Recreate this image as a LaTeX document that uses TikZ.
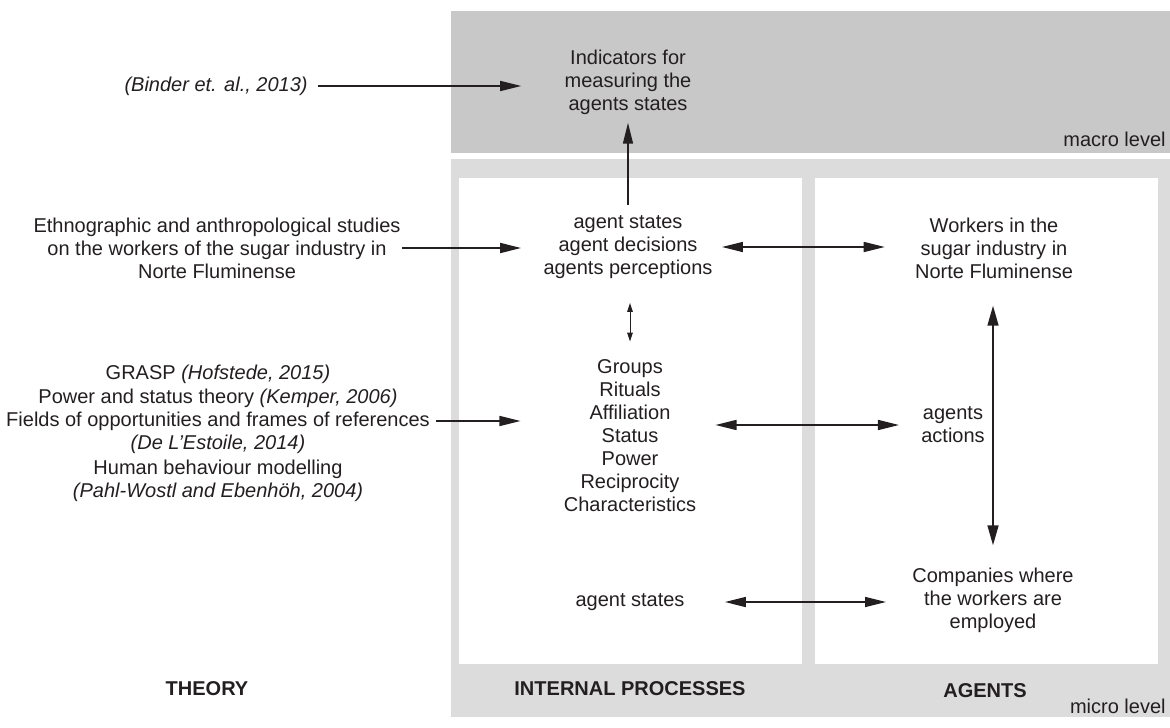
\documentclass[tikz,border=0pt]{standalone}
\usepackage{fontspec}
\setmainfont{Liberation Sans}
\usetikzlibrary{arrows.meta}
\definecolor{ink}{HTML}{231F20}
\definecolor{macrogray}{HTML}{C8C8C8}
\definecolor{microgray}{HTML}{DCDCDC}
\begin{document}
\begin{tikzpicture}[x=0.5pt,y=-0.5pt,
  txt/.style={inner sep=0pt, align=center, text=ink, font=\fontsize{10}{11.5}\selectfont},
  lbl/.style={inner sep=0pt, text=ink, font=\fontsize{10}{11.5}\selectfont\bfseries},
  lvl/.style={inner sep=0pt, text=ink, font=\fontsize{10}{11.5}\selectfont},
  arr/.style={draw=ink, line width=0.8pt, -{Triangle[length=10.5pt,width=5pt]}},
  darr/.style={draw=ink, line width=0.8pt, {Triangle[length=10.5pt,width=5pt]}-{Triangle[length=10.5pt,width=5pt]}},
  vdarr/.style={draw=ink, line width=0.8pt, {Triangle[length=10pt,width=5.5pt]}-{Triangle[length=10pt,width=5.5pt]}},
  sdarr/.style={draw=ink, line width=0.5pt, {Triangle[length=4.5pt,width=2.8pt]}-{Triangle[length=4.5pt,width=2.8pt]}}
]
\useasboundingbox (0,0) rectangle (1170,727);

% level panels
\fill[macrogray] (451,11) rectangle (1170,153);
\fill[microgray] (451,159) rectangle (1170,717);
\fill[white] (459,178) rectangle (802,664);
\fill[white] (815,178) rectangle (1158,664);

% macro level
\node[txt] (ind) at (628,82) {Indicators for\\measuring the\\agents states};
\node[txt, anchor=east] (binder) at (308,86) {\itshape (Binder et. al., 2013)};
\node[lvl, anchor=base east] (macro) at (1166,147) {macro level};

% theory column
\node[txt] (ethno) at (217,248) {Ethnographic and anthropological studies\\on the workers of the sugar industry in\\Norte Fluminense};
\node[txt] (t1) at (218,374) {GRASP \textit{(Hofstede, 2015)}};
\node[txt] (t2) at (218,398) {Power and status theory \textit{(Kemper, 2006)}};
\node[txt] (t3) at (218,421) {Fields of opportunities and frames of references};
\node[txt] (t4) at (218,444) {\textit{(De L'Estoile, 2014)}};
\node[txt] (t5) at (218,469) {Human behaviour modelling};
\node[txt] (t6) at (218,492) {\textit{(Pahl-Wostl and Ebenhöh, 2004)}};

% internal processes column
\node[txt] (states1) at (628,247) {agent states\\agent decisions\\agents perceptions};
\node[txt] (groups) at (630,436) {Groups\\Rituals\\Affiliation\\Status\\Power\\Reciprocity\\Characteristics};
\node[txt] (states2) at (630,602) {agent states};

% agents column
\node[txt] (workers) at (994,248) {Workers in the\\sugar industry in\\Norte Fluminense};
\node[txt] (actions) at (953,425) {agents\\actions};
\node[txt] (companies) at (993,600) {Companies where\\the workers are\\employed};

% column titles
\node[lbl, anchor=base] (theory) at (207,695) {THEORY};
\node[lbl, anchor=base] (internal) at (630,695) {INTERNAL PROCESSES};
\node[lbl, anchor=base] (agents) at (985,697) {AGENTS};
\node[lvl, anchor=base east] (micro) at (1166,713) {micro level};

% connectors
\draw[arr, shorten <=5pt, shorten >=21.5pt] (binder.east) -- (binder.east -| ind.west);
\draw[arr, shorten <=0.5pt, shorten >=11pt] (ethno.east) -- (ethno.east -| states1.west);
\draw[arr, shorten <=3pt, shorten >=21.5pt] (t3.east) -- (t3.east -| groups.west);
\draw[arr, shorten <=5pt, shorten >=4pt] (states1.north) -- (ind.south);
\draw[sdarr, shorten <=12pt, shorten >=9pt] (groups.north |- states1.south) -- (groups.north);
\draw[darr, shorten <=4.5pt, shorten >=15pt] (states1.east) -- (states1.east -| workers.west);
\draw[darr, shorten <=9.5pt, shorten >=11pt] (groups.east |- actions.west) -- (actions.west);
\draw[darr, shorten <=20pt, shorten >=13pt] (states2.east) -- (states2.east -| companies.west);
\draw[vdarr, shorten <=13.5pt, shorten >=11pt] (workers.south -| companies.north) -- (companies.north);
\end{tikzpicture}
\end{document}
